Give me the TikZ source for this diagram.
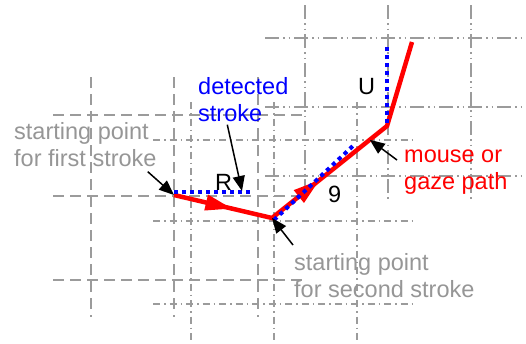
\documentclass[tikz,border=0pt]{standalone}
\usepackage{fontspec}
\setmainfont{Liberation Sans}
\usetikzlibrary{arrows.meta,decorations.markings}
\definecolor{gridgray}{RGB}{155,155,155}
\definecolor{txtgray}{RGB}{150,150,150}

\begin{document}
\begin{tikzpicture}[x=1pt, y=-1pt,
    gridA/.style={gridgray, line width=1.6pt, dash pattern=on 11pt off 6pt},
    gridB/.style={gridgray, line width=1.6pt, dash pattern=on 7pt off 4pt on 1.5pt off 4pt},
    gridC/.style={gridgray, line width=1.6pt, dash pattern=on 14pt off 4pt on 1.5pt off 4pt on 1.5pt off 4pt},
    lbl/.style={inner sep=0pt, font=\fontsize{23.5}{27}\selectfont},
    note/.style={lbl, align=left, anchor=north west},
    lead/.style={line width=1.5pt, -{Triangle[length=15pt,width=12pt]}},
    detect/.style={blue, line width=4pt, dash pattern=on 4pt off 4pt},
    gazepath/.style={red, line width=4.5pt, postaction={decorate},
        decoration={markings,
            mark=at position 60pt with {\arrow{Triangle[length=27pt,width=15pt]}},
            mark=at position 162pt with {\arrow{Triangle[length=27pt,width=15pt]}}}}
]
    \useasboundingbox (0,0) rectangle (526,343);

    % 第一笔的网格（虚线）
    \foreach \x in {91,174,258} \draw[gridA] (\x,77) -- (\x,317);
    \foreach \y in {115,196,280} \draw[gridA] (53,\y) -- (305,\y);

    % 第二笔的网格（点划线）
    \foreach \x in {191,274,357} \draw[gridB] (\x,102) -- (\x,343);
    \foreach \y in {140,221,304} \draw[gridB] (153,\y) -- (415,\y);

    % 第三笔的网格
    \foreach \x in {305,388,471} \draw[gridC] (\x,5) -- (\x,200);
    \foreach \y in {38,107,176} \draw[gridC] (265,\y) -- (522,\y);

    % 鼠标/视线轨迹
    \coordinate (p1) at (174,195);
    \coordinate (p2) at (272,218);
    \coordinate (p3) at (387,126);
    \coordinate (p4) at (412,42);
    \draw[gazepath] (p1) -- (p2) -- (p3) -- (p4);

    % 检测到的笔画（蓝色点线）
    \coordinate (r0) at (174,192);
    \coordinate (r1) at (252,192);
    \coordinate (n0) at (274,220);
    \coordinate (n1) at (355,144);
    \coordinate (u0) at (387,123);
    \coordinate (u1) at (387,45);
    \draw[detect] (r0) -- (r1);
    \draw[detect] (n0) -- (n1);
    \draw[detect] (u0) -- (u1);

    % 笔画字母
    \node[lbl, anchor=base west] (r) at (215,190) {R};
    \node[lbl, anchor=base west] (u) at (358,94) {U};
    \node[lbl, anchor=base west] (nine) at (328,202) {9};

    % 说明文字
    \node[note, txtgray] (first) at (14,122) {starting point\\for first stroke};
    \node[note, blue] (det) at (198,77) {detected\\stroke};
    \node[note, red] (mouse) at (404,150) {mouse or\\gaze path};
    \node[note, txtgray] (second) at (294,253) {starting point\\for second stroke};

    % 指示箭头
    \coordinate (rtip) at (242,191);
    \path (p2) -- (p3) coordinate[pos=0.85] (gaze);
    \draw[lead] ([shift={(-9,5)}]first.south east) -- (p1);
    \draw[lead] ([shift={(-16,3)}]det.south) -- (rtip);
    \draw[lead] ([shift={(-7,10)}]mouse.north west) -- (gaze);
    \draw[lead] ([shift={(-1,-8)}]second.north west) -- (p2);
\end{tikzpicture}
\end{document}
